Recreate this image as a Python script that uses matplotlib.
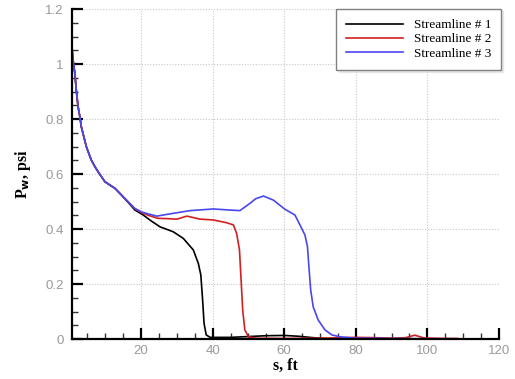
import matplotlib
matplotlib.use("Agg")
import matplotlib.pyplot as plt
from matplotlib.ticker import MultipleLocator, FuncFormatter

# Wall pressure along each streamline (s in ft, P_w in psi)
s_1 = [0.7, 1.0, 1.5, 1.9, 2.4, 2.9, 3.3, 4.0, 4.7, 5.4, 6.1, 7.1, 8.0, 9.9,
       12.7, 14.5, 16.4, 18.2, 20.6, 23.0, 25.3, 29.0, 31.8, 34.6, 36.0,
       36.7, 37.2, 37.6, 38.2, 39.3, 45.0, 50.0, 55.0, 60.0, 64.0, 68.0, 72.0]
p_1 = [1.057, 1.015, 0.966, 0.905, 0.845, 0.808, 0.772, 0.736, 0.700, 0.675,
       0.651, 0.627, 0.608, 0.572, 0.548, 0.524, 0.497, 0.470, 0.451, 0.428,
       0.408, 0.390, 0.366, 0.324, 0.275, 0.233, 0.142, 0.057, 0.015, 0.006,
       0.006, 0.009, 0.012, 0.013, 0.010, 0.005, 0.001]

s_2 = [0.7, 1.0, 1.5, 1.9, 2.4, 2.9, 3.3, 4.0, 4.7, 5.4, 6.1, 7.1, 8.0, 9.9,
       12.7, 14.5, 16.4, 18.2, 20.0, 22.0, 24.7, 27.0, 30.0, 32.8, 34.5,
       36.5, 40.2, 43.9, 45.8, 46.7, 47.5, 47.9, 48.4, 49.0, 50.0, 52.0,
       60.0, 70.0, 80.0, 85.0, 90.0, 94.0, 96.5, 99.0, 104.0, 108.5]
p_2 = [1.057, 1.015, 0.966, 0.905, 0.845, 0.808, 0.772, 0.736, 0.700, 0.675,
       0.651, 0.627, 0.608, 0.572, 0.548, 0.524, 0.499, 0.475, 0.461, 0.450,
       0.439, 0.438, 0.436, 0.447, 0.442, 0.436, 0.433, 0.423, 0.415, 0.384,
       0.324, 0.227, 0.105, 0.033, 0.008, 0.003, 0.002, 0.003, 0.006, 0.005,
       0.003, 0.005, 0.014, 0.004, 0.002, 0.002]

s_3 = [0.7, 1.0, 1.5, 1.9, 2.4, 2.9, 3.3, 4.0, 4.7, 5.4, 6.1, 7.1, 8.0, 9.9,
       12.7, 14.5, 16.4, 18.2, 20.0, 22.0, 24.4, 28.0, 33.7, 40.2, 44.9,
       47.6, 50.4, 52.0, 54.2, 57.0, 60.2, 63.0, 64.4, 65.8, 66.5, 66.9,
       67.4, 68.1, 69.5, 71.4, 73.3, 75.6, 80.0, 90.0, 100.0, 107.0]
p_3 = [1.057, 1.015, 0.966, 0.905, 0.845, 0.808, 0.772, 0.736, 0.700, 0.675,
       0.651, 0.627, 0.608, 0.572, 0.548, 0.524, 0.499, 0.475, 0.463, 0.455,
       0.447, 0.455, 0.467, 0.473, 0.469, 0.467, 0.493, 0.510, 0.520, 0.505,
       0.472, 0.451, 0.415, 0.378, 0.336, 0.263, 0.178, 0.117, 0.069, 0.033,
       0.015, 0.008, 0.003, 0.002, 0.001, 0.001]

labels = ["Streamline # 1", "Streamline # 2", "Streamline # 3"]
colors = ["#000000", "#d02020", "#4848f0"]

fig = plt.figure(figsize=(5.15, 3.79), dpi=100)
ax = fig.add_axes([0.1398, 0.1055, 0.829, 0.8705])

for s, p, lab, c in zip([s_1, s_2, s_3], [p_1, p_2, p_3], labels, colors):
    ax.plot(s, p, color=c, lw=1.2, label=lab)

ax.set_xlim(0.7, 120)
ax.set_ylim(0, 1.2)

ax.xaxis.set_major_locator(MultipleLocator(20))
ax.xaxis.set_minor_locator(MultipleLocator(5))
ax.yaxis.set_major_locator(MultipleLocator(0.2))
ax.yaxis.set_minor_locator(MultipleLocator(0.05))
ax.yaxis.set_major_formatter(FuncFormatter(lambda v, _: "0" if abs(v) < 1e-9 else f"{v:g}"))

for side in ("top", "right"):
    ax.spines[side].set_visible(False)
for side in ("left", "bottom"):
    ax.spines[side].set_linewidth(1.6)

ax.tick_params(which="major", direction="in", length=8, width=1.6,
               color="black", labelcolor="#9a9a9a", labelsize=9.5)
ax.tick_params(axis="x", which="major", pad=4)
ax.tick_params(axis="y", which="major", pad=6)
ax.tick_params(which="minor", direction="in", length=4, width=1.0, color="#333333")
for lbl in ax.get_xticklabels() + ax.get_yticklabels():
    lbl.set_family("Liberation Sans")

ax.grid(True, which="major", linestyle=(0, (1, 1.5)), color="#c8c8c8", lw=0.8)
ax.set_axisbelow(True)

ax.set_xlabel("s, ft", family="Liberation Serif", fontweight="bold", fontsize=11.5, labelpad=1)
ax.set_ylabel(r"P$_\mathbf{w}$, psi", family="Liberation Serif", fontweight="bold",
              fontsize=11.5, labelpad=9)

leg = ax.legend(loc="upper right", bbox_to_anchor=(1.005, 1.0), borderaxespad=0,
                prop={"family": "Liberation Serif", "size": 9.5}, handlelength=4.3,
                handletextpad=0.8, fancybox=False, framealpha=1, edgecolor="#808080",
                labelspacing=0.15, borderpad=0.75,
                shadow={"ox": 1.5, "oy": -1.5, "color": "#d8d8d8"})
leg.get_frame().set_linewidth(1.0)

fig.savefig("out.png", dpi=100)
